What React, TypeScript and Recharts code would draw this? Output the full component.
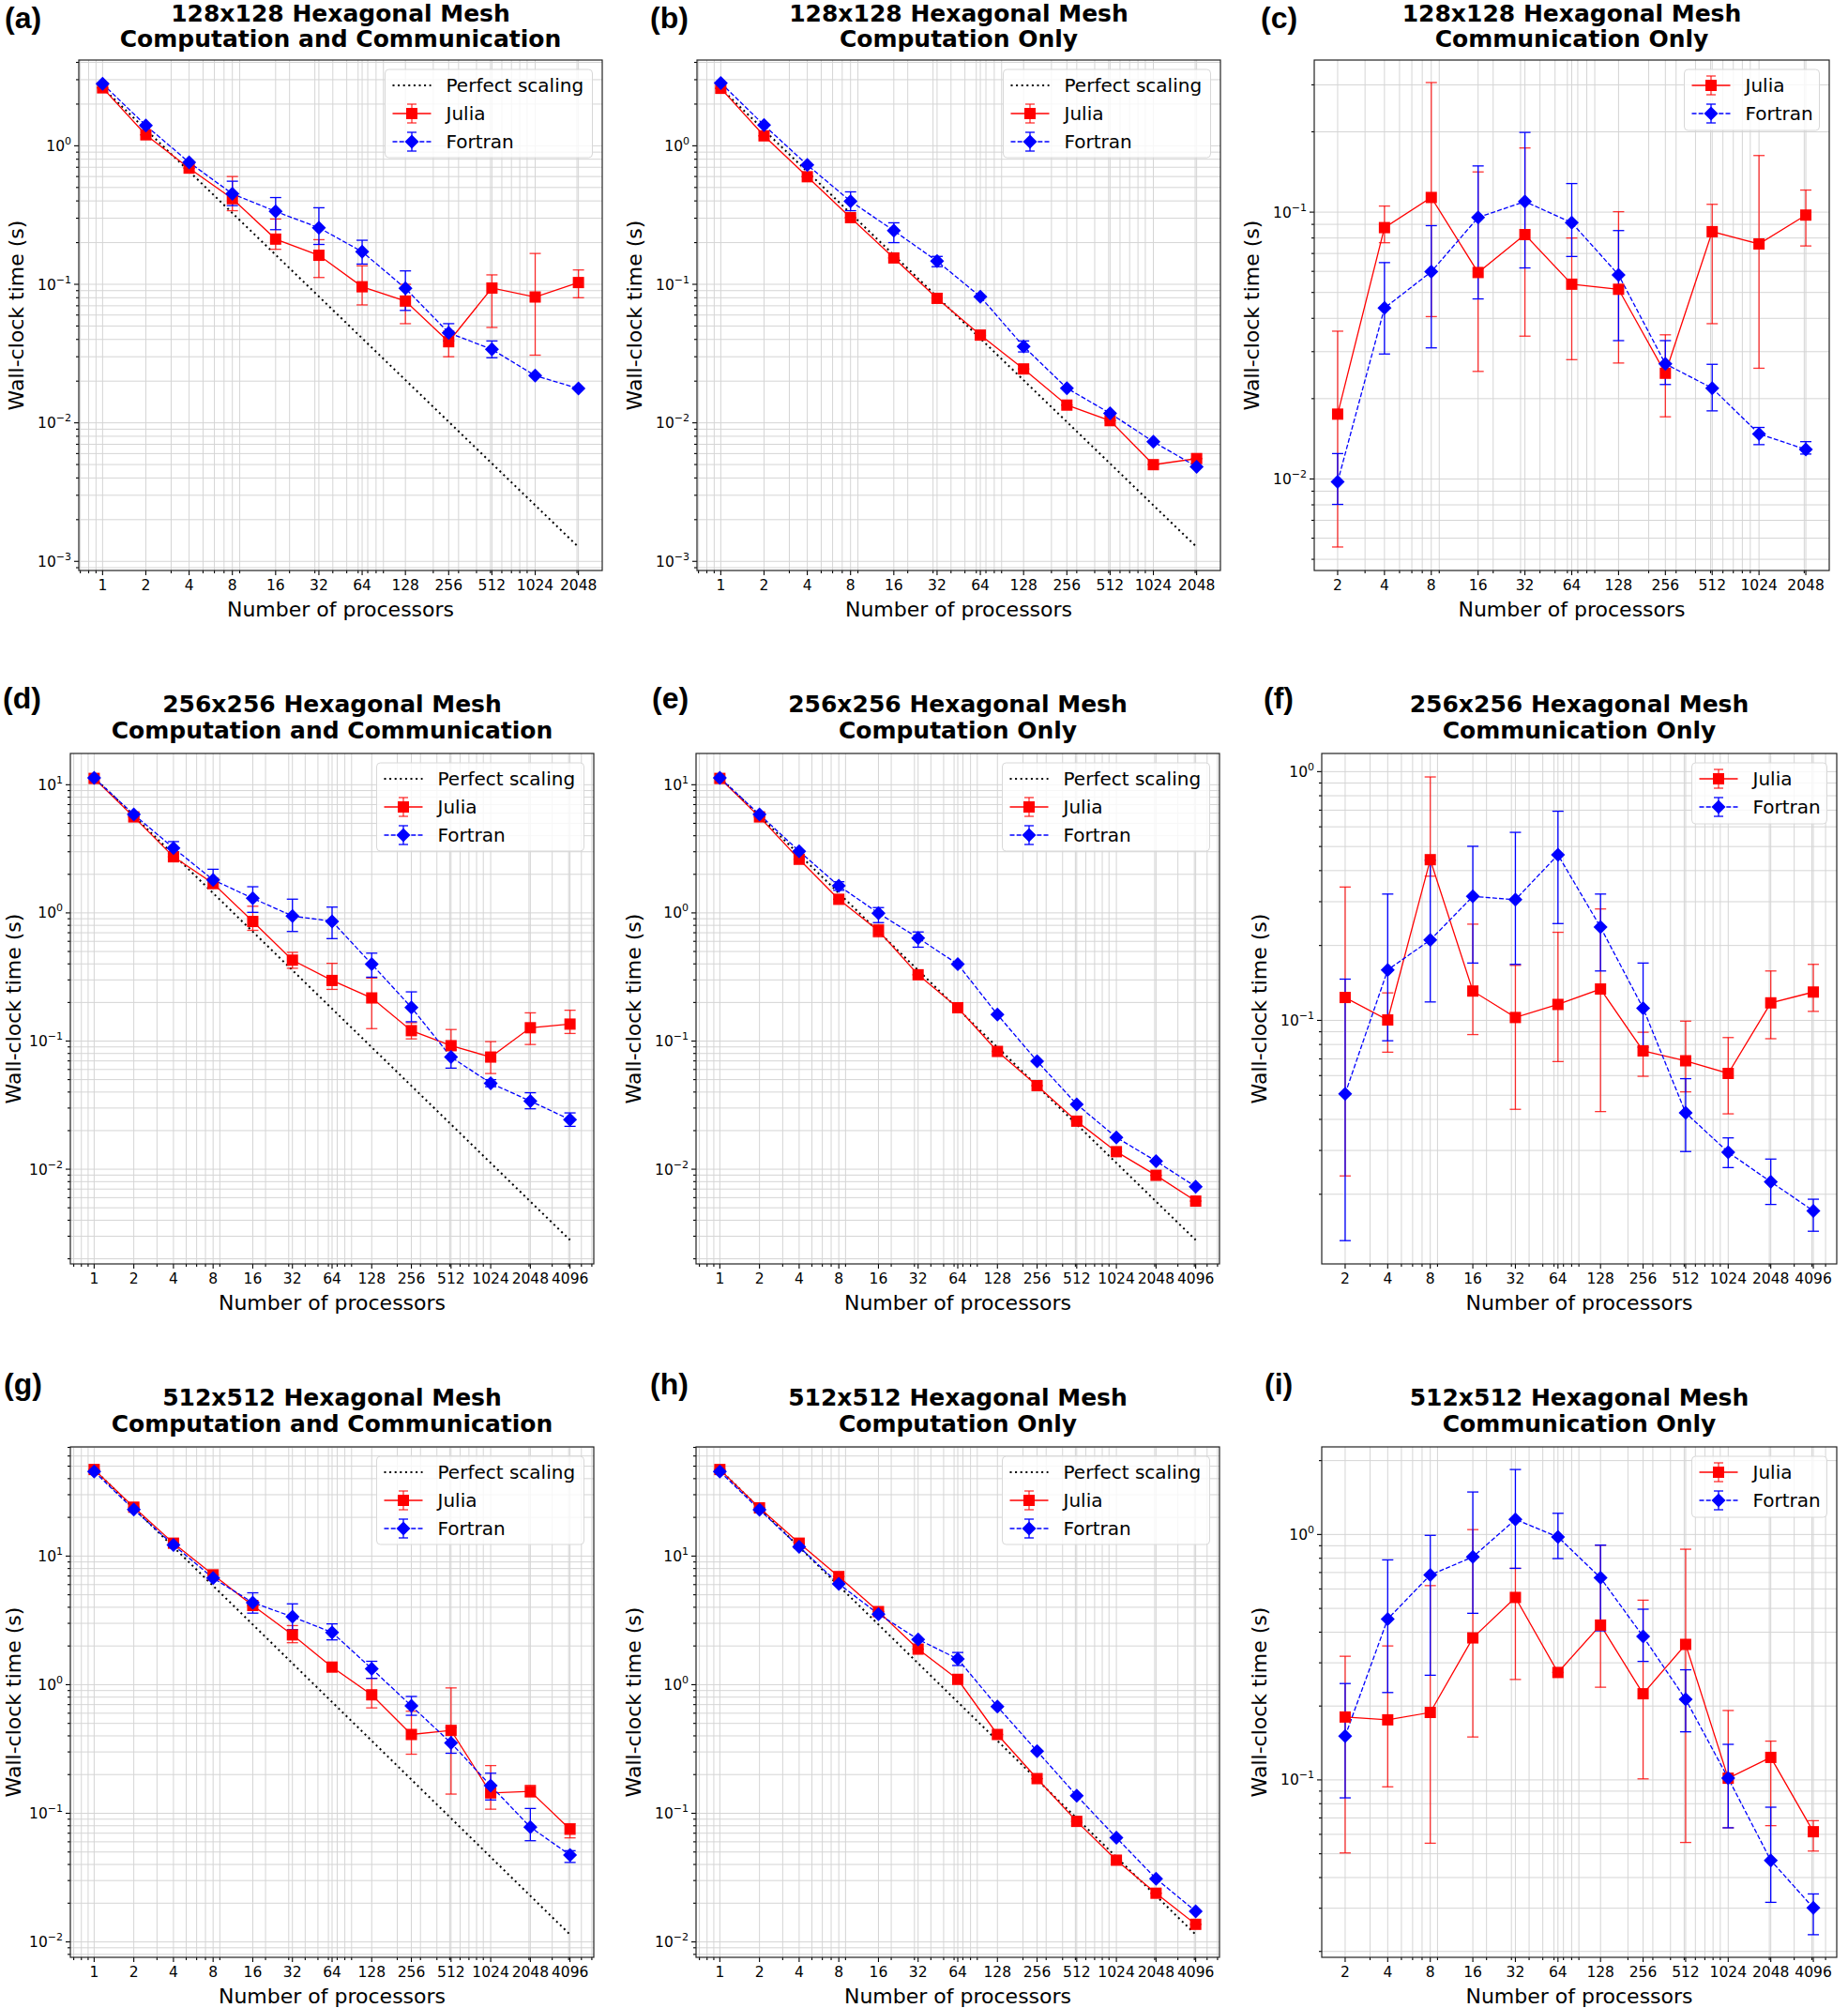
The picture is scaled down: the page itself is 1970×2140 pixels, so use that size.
import React from 'react';
import { ComposedChart, Line, XAxis, YAxis, CartesianGrid, ErrorBar } from 'recharts';

// each point: [value, low, high]; a single number means no visible error bar
type Pt = number[];

const PROCS_11 = [1, 2, 4, 8, 16, 32, 64, 128, 256, 512, 1024, 2048];
const PROCS_11_COMM = [2, 4, 8, 16, 32, 64, 128, 256, 512, 1024, 2048];
const PROCS_12 = [1, 2, 4, 8, 16, 32, 64, 128, 256, 512, 1024, 2048, 4096];
const PROCS_12_COMM = [2, 4, 8, 16, 32, 64, 128, 256, 512, 1024, 2048, 4096];

// 128x128
const A_JULIA: Pt[] = [[2.62], [1.2], [0.69], [0.415, 0.34, 0.6], [0.212, 0.179, 0.296], [0.162, 0.112, 0.21], [0.096, 0.071, 0.136], [0.0757, 0.052, 0.1], [0.0385, 0.03, 0.046], [0.094, 0.0488, 0.117], [0.081, 0.0308, 0.167], [0.103, 0.08, 0.127]];
const A_FORTRAN: Pt[] = [[2.8], [1.4], [0.76], [0.45, 0.37, 0.555], [0.336, 0.248, 0.423], [0.256, 0.194, 0.357], [0.172, 0.14, 0.208], [0.0935, 0.0648, 0.125], [0.0447, 0.039, 0.052], [0.0339, 0.0295, 0.039], [0.0219], [0.0177]];
const A_PERFECT = [[1, 2.62], [2048, 0.00127]];

const B_JULIA: Pt[] = [[2.6], [1.18], [0.598], [0.303], [0.155], [0.0792], [0.043], [0.0245], [0.01343], [0.01037], [0.00499], [0.00552]];
const B_FORTRAN: Pt[] = [[2.84], [1.41], [0.727], [0.398, 0.34, 0.465], [0.244, 0.2, 0.278], [0.147, 0.134, 0.159], [0.0814], [0.0356, 0.0325, 0.039], [0.0178], [0.01172], [0.0073], [0.00482]];
const B_PERFECT = [[1, 2.6], [2048, 0.00127]];

const C_JULIA: Pt[] = [[0.0175, 0.00556, 0.0358], [0.0875, 0.0768, 0.1054], [0.1135, 0.0406, 0.306], [0.0594, 0.0253, 0.1415], [0.0824, 0.0343, 0.174], [0.0537, 0.028, 0.08], [0.0514, 0.0272, 0.1004], [0.0249, 0.0171, 0.0347], [0.0845, 0.0382, 0.107], [0.076, 0.026, 0.163], [0.0975, 0.0747, 0.121]];
const C_FORTRAN: Pt[] = [[0.00976, 0.00803, 0.01245], [0.0437, 0.0294, 0.0647], [0.0598, 0.031, 0.089], [0.0955, 0.0473, 0.149], [0.1096, 0.0618, 0.199], [0.0913, 0.0682, 0.128], [0.0582, 0.033, 0.0853], [0.027, 0.0226, 0.033], [0.0219, 0.018, 0.0269], [0.01476, 0.01345, 0.0156], [0.0129, 0.0124, 0.0138]];

// 256x256
const D_JULIA: Pt[] = [[11.2], [5.61], [2.74], [1.7, 1.55, 1.85], [0.857, 0.731, 1.127], [0.428, 0.37, 0.492], [0.297, 0.253, 0.404], [0.217, 0.125, 0.31], [0.1205, 0.104, 0.139], [0.092, 0.075, 0.123], [0.075, 0.0558, 0.099], [0.127, 0.094, 0.166], [0.1356, 0.1146, 0.174]];
const D_FORTRAN: Pt[] = [[11.3], [5.86], [3.21, 2.9, 3.6], [1.81, 1.6, 2.19], [1.3, 1.01, 1.6], [0.946, 0.716, 1.28], [0.859, 0.63, 1.11], [0.398, 0.315, 0.485], [0.183, 0.1415, 0.242], [0.075, 0.0615, 0.0855], [0.0469, 0.044, 0.05], [0.034, 0.0296, 0.0395], [0.0244, 0.0216, 0.0275]];
const DE_PERFECT = [[1, 11.4], [4096, 0.0028]];

const E_JULIA: Pt[] = [[11.2], [5.61], [2.62], [1.277], [0.726, 0.65, 0.81], [0.329], [0.182], [0.083], [0.0449], [0.0237], [0.0137], [0.00896], [0.00564]];
const E_FORTRAN: Pt[] = [[11.3], [5.86], [3.03], [1.626, 1.5, 1.75], [0.995, 0.84, 1.1], [0.637, 0.54, 0.71], [0.398], [0.161], [0.0697], [0.0321], [0.0177], [0.01156], [0.0073]];

const F_JULIA: Pt[] = [[0.1236, 0.0237, 0.3436], [0.1004, 0.0745, 0.129], [0.4426, 0.38, 0.952], [0.1312, 0.0877, 0.2437], [0.1027, 0.0439, 0.1665], [0.1159, 0.0683, 0.226], [0.1337, 0.043, 0.2805], [0.0754, 0.0596, 0.0896], [0.0688, 0.0516, 0.0993], [0.0612, 0.0421, 0.0853], [0.1176, 0.0844, 0.158], [0.13, 0.1087, 0.168]];
const F_FORTRAN: Pt[] = [[0.0507, 0.01302, 0.1465], [0.1596, 0.0828, 0.322], [0.2104, 0.1186, 0.44], [0.315, 0.17, 0.501], [0.3057, 0.168, 0.57], [0.463, 0.245, 0.693], [0.237, 0.158, 0.322], [0.112, 0.078, 0.17], [0.0425, 0.0297, 0.0583], [0.0295, 0.0256, 0.0337], [0.02244, 0.0182, 0.0277], [0.01715, 0.0142, 0.0191]];

// 512x512
const G_JULIA: Pt[] = [[47.1], [24.0], [12.6], [7.15], [4.13], [2.44, 2.12, 2.88], [1.37], [0.834, 0.66, 1.12], [0.41, 0.288, 0.622], [0.441, 0.141, 0.944], [0.144, 0.1076, 0.235], [0.148, 0.134, 0.165], [0.0752, 0.0644, 0.083]];
const G_FORTRAN: Pt[] = [[45.4], [23.0], [12.2], [6.74], [4.35, 3.6, 5.18], [3.37, 2.68, 4.25], [2.55, 2.23, 2.97], [1.33, 1.12, 1.52], [0.684, 0.578, 0.81], [0.352, 0.293, 0.465], [0.164, 0.127, 0.205], [0.078, 0.0612, 0.109], [0.0474, 0.0415, 0.0512]];
const GH_PERFECT = [[1, 47.1], [4096, 0.0114]];

const H_JULIA: Pt[] = [[47.1], [23.7], [12.6], [6.93], [3.7], [1.89], [1.1], [0.41], [0.186], [0.0865], [0.0432], [0.0239], [0.0137]];
const H_FORTRAN: Pt[] = [[45.4], [22.9], [11.8], [6.08], [3.54], [2.25], [1.585, 1.41, 1.78], [0.675], [0.304], [0.137], [0.0646], [0.031], [0.0173]];

const I_JULIA: Pt[] = [[0.1804, 0.0504, 0.319], [0.1757, 0.0937, 0.3515], [0.1883, 0.0552, 0.619], [0.379, 0.1496, 1.047], [0.554, 0.2566, 0.728], [0.274], [0.4274, 0.2386, 0.905], [0.2244, 0.101, 0.54], [0.3566, 0.0556, 0.871], [0.1016, 0.0638, 0.1918], [0.1235, 0.0651, 0.1439], [0.0615, 0.0513, 0.0682]];
const I_FORTRAN: Pt[] = [[0.1507, 0.0845, 0.247], [0.4526, 0.227, 0.788], [0.684, 0.267, 0.992], [0.81, 0.4774, 1.49], [1.152, 0.728, 1.84], [0.977, 0.798, 1.22], [0.666, 0.405, 0.905], [0.384, 0.304, 0.496], [0.213, 0.157, 0.281], [0.1016, 0.0638, 0.1396], [0.047, 0.0317, 0.0774], [0.0301, 0.0234, 0.0343]];

type PanelCfg = {
  tag: string;
  mesh: string;
  kind: string;
  box: [number, number, number, number]; // left, top, width, height of the axes frame
  tagPos: [number, number];
  procs: number[];
  xExp: [number, number]; // log2 limits
  yExp: [number, number]; // log10 limits
  julia: Pt[];
  fortran: Pt[];
  perfect?: number[][];
};

const PANELS: PanelCfg[] = [
  { tag: '(a)', mesh: '128x128 Hexagonal Mesh', kind: 'Computation and Communication', box: [84, 64, 558, 544], tagPos: [5, 30], procs: PROCS_11, xExp: [-0.55, 11.55], yExp: [-3.066, 0.619], julia: A_JULIA, fortran: A_FORTRAN, perfect: A_PERFECT },
  { tag: '(b)', mesh: '128x128 Hexagonal Mesh', kind: 'Computation Only', box: [743, 64, 558, 544], tagPos: [693, 30], procs: PROCS_11, xExp: [-0.55, 11.55], yExp: [-3.066, 0.619], julia: B_JULIA, fortran: B_FORTRAN, perfect: B_PERFECT },
  { tag: '(c)', mesh: '128x128 Hexagonal Mesh', kind: 'Communication Only', box: [1401, 64, 549, 544], tagPos: [1344, 30], procs: PROCS_11_COMM, xExp: [0.5, 11.5], yExp: [-2.343, -0.43], julia: C_JULIA, fortran: C_FORTRAN },
  { tag: '(d)', mesh: '256x256 Hexagonal Mesh', kind: 'Computation and Communication', box: [75, 803, 558, 544], tagPos: [3, 755], procs: PROCS_12, xExp: [-0.6, 12.6], yExp: [-2.739, 1.244], julia: D_JULIA, fortran: D_FORTRAN, perfect: DE_PERFECT },
  { tag: '(e)', mesh: '256x256 Hexagonal Mesh', kind: 'Computation Only', box: [742, 803, 558, 544], tagPos: [695, 755], procs: PROCS_12, xExp: [-0.6, 12.6], yExp: [-2.739, 1.244], julia: E_JULIA, fortran: E_FORTRAN, perfect: DE_PERFECT },
  { tag: '(f)', mesh: '256x256 Hexagonal Mesh', kind: 'Communication Only', box: [1409, 803, 549, 544], tagPos: [1347, 755], procs: PROCS_12_COMM, xExp: [0.45, 12.55], yExp: [-1.979, 0.073], julia: F_JULIA, fortran: F_FORTRAN },
  { tag: '(g)', mesh: '512x512 Hexagonal Mesh', kind: 'Computation and Communication', box: [75, 1542, 558, 544], tagPos: [4, 1486], procs: PROCS_12, xExp: [-0.6, 12.6], yExp: [-2.12, 1.849], julia: G_JULIA, fortran: G_FORTRAN, perfect: GH_PERFECT },
  { tag: '(h)', mesh: '512x512 Hexagonal Mesh', kind: 'Computation Only', box: [742, 1542, 558, 544], tagPos: [693, 1486], procs: PROCS_12, xExp: [-0.6, 12.6], yExp: [-2.12, 1.849], julia: H_JULIA, fortran: H_FORTRAN, perfect: GH_PERFECT },
  { tag: '(i)', mesh: '512x512 Hexagonal Mesh', kind: 'Communication Only', box: [1409, 1542, 549, 544], tagPos: [1348, 1486], procs: PROCS_12_COMM, xExp: [0.45, 12.55], yExp: [-1.723, 0.357], julia: I_JULIA, fortran: I_FORTRAN },
];

const FONT = 'DejaVu Sans, Verdana, sans-serif';
const RED = '#ff0000';
const BLUE = '#0000ff';
const GRID = '#d5d5d5';

const ML = 100;
const MT = 10;
const MR = 10;
const MB = 40;

const round = (v: number) => parseFloat(v.toPrecision(6));

// matplotlib-like log locators: minor ticks at 2..9 x 10^k, plus the given majors
function gridValues(dom: number[], majors: number[], withDecades: boolean) {
  const set = new Set<number>();
  const lo = Math.floor(Math.log10(dom[0])) - 1;
  const hi = Math.ceil(Math.log10(dom[1])) + 1;
  for (let k = lo; k <= hi; k++) {
    for (let m = withDecades ? 1 : 2; m <= 9; m++) set.add(round(m * Math.pow(10, k)));
  }
  majors.forEach((v) => set.add(v));
  return Array.from(set).filter((v) => v >= dom[0] && v <= dom[1]).sort((a, b) => a - b);
}

const isDecade = (v: number) => Math.abs(Math.log10(v) - Math.round(Math.log10(v))) < 1e-6;

const XTick = (props: any) => {
  const { x, y, payload, labels } = props;
  const v = payload.value;
  const major = labels.includes(v);
  return (
    <g>
      <line x1={x} x2={x} y1={y} y2={y + (major ? 5 : 3)} stroke="#000" strokeWidth={1.1} />
      {major && (
        <text x={x} y={y + 20.5} textAnchor="middle" fontSize={15.5} fontFamily={FONT} fill="#000">
          {v}
        </text>
      )}
    </g>
  );
};

const YTick = (props: any) => {
  const { x, y, payload } = props;
  const v = payload.value;
  const major = isDecade(v);
  const e = Math.round(Math.log10(v));
  return (
    <g>
      <line x1={x} x2={x - (major ? 5 : 3)} y1={y} y2={y} stroke="#000" strokeWidth={1.1} />
      {major && (
        <text x={x - 8} y={y + 5.5} textAnchor="end" fontSize={15.5} fontFamily={FONT} fill="#000">
          <tspan>10</tspan>
          <tspan dy={-7} fontSize={11}>{e < 0 ? `\u2212${-e}` : `${e}`}</tspan>
        </text>
      )}
    </g>
  );
};

const Square = (props: any) => {
  const { cx, cy, index } = props;
  if (cx == null || cy == null) return <g key={`s${index}`} />;
  return <rect key={`s${index}`} x={cx - 6} y={cy - 6} width={12} height={12} fill={RED} />;
};

const Diamond = (props: any) => {
  const { cx, cy, index } = props;
  if (cx == null || cy == null) return <g key={`d${index}`} />;
  const r = 7.5;
  return <path key={`d${index}`} d={`M${cx},${cy - r}L${cx + r},${cy}L${cx},${cy + r}L${cx - r},${cy}Z`} fill={BLUE} />;
};

const toRows = (procs: number[], pts: Pt[]) =>
  procs.map((x, i) => {
    const v = pts[i][0];
    const lo = pts[i][1] ?? v;
    const hi = pts[i][2] ?? v;
    return { x, y: v, err: [v - lo, hi - v] };
  });

function PanelChart({ cfg }: { cfg: PanelCfg }) {
  const [left, top, w, h] = cfg.box;
  const xDom = [Math.pow(2, cfg.xExp[0]), Math.pow(2, cfg.xExp[1])];
  const yDom = [Math.pow(10, cfg.yExp[0]), Math.pow(10, cfg.yExp[1])];
  const xt = gridValues(xDom, cfg.procs, false);
  const yt = gridValues(yDom, [], true);
  const jRows = toRows(cfg.procs, cfg.julia);
  const fRows = toRows(cfg.procs, cfg.fortran);
  const pRows = cfg.perfect ? cfg.perfect.map(([x, y]) => ({ x, y })) : null;

  return (
    <div style={{ position: 'absolute', left: left - ML, top: top - MT }}>
      <ComposedChart width={w + ML + MR} height={h + MT + MB} margin={{ top: MT, right: MR, bottom: 0, left: 0 }}>
        <CartesianGrid stroke={GRID} strokeWidth={1} verticalValues={xt} horizontalValues={yt} />
        <XAxis
          type="number"
          dataKey="x"
          scale="log"
          domain={xDom}
          allowDataOverflow
          ticks={xt}
          interval={0}
          tick={(p: any) => <XTick {...p} labels={cfg.procs} />}
          tickLine={false}
          tickSize={0}
          tickMargin={0}
          axisLine={false}
          height={MB}
        />
        <YAxis
          type="number"
          scale="log"
          domain={yDom}
          allowDataOverflow
          ticks={yt}
          interval={0}
          tick={(p: any) => <YTick {...p} />}
          tickLine={false}
          tickSize={0}
          tickMargin={0}
          axisLine={false}
          width={ML}
        />
        {pRows && (
          <Line data={pRows} dataKey="y" stroke="#000" strokeWidth={2} strokeDasharray="2 3.6" dot={false} activeDot={false} isAnimationActive={false} />
        )}
        <Line data={jRows} dataKey="y" stroke={RED} strokeWidth={1.3} dot={Square} activeDot={false} isAnimationActive={false}>
          <ErrorBar dataKey="err" direction="y" width={6} stroke={RED} strokeOpacity={0.8} strokeWidth={1.3} />
        </Line>
        <Line data={fRows} dataKey="y" stroke={BLUE} strokeWidth={1.3} strokeDasharray="5 2.2" dot={Diamond} activeDot={false} isAnimationActive={false}>
          <ErrorBar dataKey="err" direction="y" width={6} stroke={BLUE} strokeWidth={1.3} />
        </Line>
      </ComposedChart>
    </div>
  );
}

function LegendBox({ cfg }: { cfg: PanelCfg }) {
  const [left, top, w] = cfg.box;
  const entries = cfg.perfect ? ['perfect', 'julia', 'fortran'] : ['julia', 'fortran'];
  const bw = cfg.perfect ? 221 : 144;
  const bh = cfg.perfect ? 94 : 65;
  const bx = left + w - 10.5 - bw;
  const by = top + 10;
  const names: Record<string, string> = { perfect: 'Perfect scaling', julia: 'Julia', fortran: 'Fortran' };
  return (
    <g>
      <rect x={bx} y={by} width={bw} height={bh} rx={4} fill="rgba(255,255,255,0.8)" stroke="#d8d8d8" strokeWidth={1} />
      {entries.map((k, i) => {
        const cy = by + 17 + 30 * i;
        const mx = bx + 28.5;
        return (
          <g key={k}>
            {k === 'perfect' && <line x1={bx + 8} x2={bx + 49} y1={cy} y2={cy} stroke="#000" strokeWidth={2} strokeDasharray="2 3.6" />}
            {k === 'julia' && (
              <g>
                <line x1={bx + 8} x2={bx + 49} y1={cy} y2={cy} stroke={RED} strokeWidth={1.3} />
                <line x1={mx} x2={mx} y1={cy - 10} y2={cy + 10} stroke={RED} strokeOpacity={0.8} strokeWidth={1.3} />
                <line x1={mx - 5} x2={mx + 5} y1={cy - 10} y2={cy - 10} stroke={RED} strokeOpacity={0.8} strokeWidth={1.3} />
                <line x1={mx - 5} x2={mx + 5} y1={cy + 10} y2={cy + 10} stroke={RED} strokeOpacity={0.8} strokeWidth={1.3} />
                <rect x={mx - 6} y={cy - 6} width={12} height={12} fill={RED} />
              </g>
            )}
            {k === 'fortran' && (
              <g>
                <line x1={bx + 8} x2={bx + 49} y1={cy} y2={cy} stroke={BLUE} strokeWidth={1.3} strokeDasharray="5 2.2" />
                <line x1={mx} x2={mx} y1={cy - 10} y2={cy + 10} stroke={BLUE} strokeWidth={1.3} />
                <line x1={mx - 5} x2={mx + 5} y1={cy - 10} y2={cy - 10} stroke={BLUE} strokeWidth={1.3} />
                <line x1={mx - 5} x2={mx + 5} y1={cy + 10} y2={cy + 10} stroke={BLUE} strokeWidth={1.3} />
                <path d={`M${mx},${cy - 7.5}L${mx + 7.5},${cy}L${mx},${cy + 7.5}L${mx - 7.5},${cy}Z`} fill={BLUE} />
              </g>
            )}
            <text x={bx + 65} y={cy + 7} fontSize={20} fontFamily={FONT} fill="#000">
              {names[k]}
            </text>
          </g>
        );
      })}
    </g>
  );
}

function Decorations({ cfg }: { cfg: PanelCfg }) {
  const [left, top, w, h] = cfg.box;
  const cx = left + w / 2;
  // keep the rotated label inside the page for the panels at the left edge
  const ylx = Math.max(left - 59, 22);
  const yly = top + h / 2;
  // keep the two title lines inside the page for the top row
  const t2 = Math.max(top - 16.5, 50);
  const t1 = t2 - 27.5;
  return (
    <g>
      <rect x={left} y={top} width={w} height={h} fill="none" stroke="#222" strokeWidth={1.2} />
      <LegendBox cfg={cfg} />
      <text x={cfg.tagPos[0]} y={cfg.tagPos[1]} fontSize={32} fontWeight="bold" fontFamily="Liberation Sans, Arial, sans-serif" fill="#000">
        {cfg.tag}
      </text>
      <text x={cx} y={t1} textAnchor="middle" fontSize={25} fontWeight="bold" fontFamily={FONT} fill="#000">
        {cfg.mesh}
      </text>
      <text x={cx} y={t2} textAnchor="middle" fontSize={25} fontWeight="bold" fontFamily={FONT} fill="#000">
        {cfg.kind}
      </text>
      <text x={cx} y={top + h + 49} textAnchor="middle" fontSize={22} fontFamily={FONT} fill="#000">
        Number of processors
      </text>
      <text x={ylx} y={yly} textAnchor="middle" fontSize={22} fontFamily={FONT} fill="#000" transform={`rotate(-90 ${ylx} ${yly})`}>
        Wall-clock time (s)
      </text>
    </g>
  );
}

export default function App() {
  return (
    <div style={{ position: 'absolute', left: 0, top: 0, width: 1970, height: 2140, background: '#fff', overflow: 'hidden' }}>
      {PANELS.map((p) => (
        <PanelChart key={p.tag} cfg={p} />
      ))}
      <svg width={1970} height={2140} style={{ position: 'absolute', left: 0, top: 0, pointerEvents: 'none' }}>
        {PANELS.map((p) => (
          <Decorations key={p.tag} cfg={p} />
        ))}
      </svg>
    </div>
  );
}
